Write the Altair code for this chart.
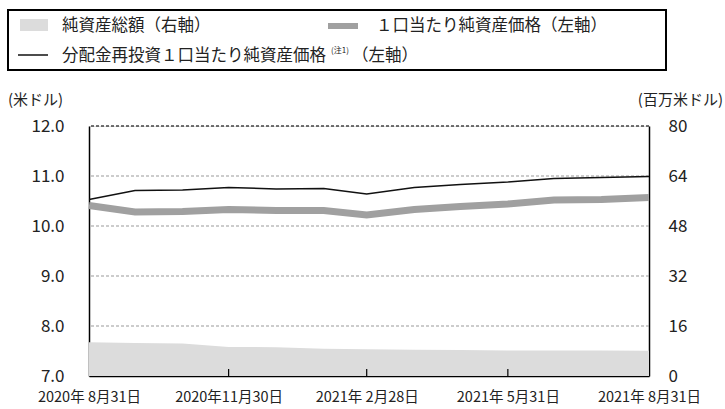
import altair as alt
import pandas as pd

dates = ["2020-08-31", "2020-09-30", "2020-10-31", "2020-11-30", "2020-12-31",
         "2021-01-31", "2021-02-28", "2021-03-31", "2021-04-30", "2021-05-31",
         "2021-06-30", "2021-07-31", "2021-08-31"]
nav_reinvest = [10.53, 10.71, 10.72, 10.77, 10.74, 10.75, 10.64, 10.77, 10.83, 10.88, 10.95, 10.97, 10.99]
nav = [10.41, 10.28, 10.29, 10.33, 10.31, 10.31, 10.22, 10.33, 10.39, 10.44, 10.52, 10.53, 10.57]
net_assets = [10.8, 10.6, 10.4, 9.3, 9.2, 8.7, 8.6, 8.4, 8.3, 8.2, 8.2, 8.2, 8.1]

left_ticks = [7.0, 8.0, 9.0, 10.0, 11.0, 12.0]
right_ticks = [0, 16, 32, 48, 64, 80]
x_ticks = ["2020-08-31", "2020-11-30", "2021-02-28", "2021-05-31", "2021-08-31"]

FONT = "Noto Sans CJK JP"

df = pd.DataFrame({"date": dates, "nav_reinvest": nav_reinvest, "nav": nav, "assets": net_assets})
tick_df = pd.DataFrame({"date": x_ticks[1:-1]})

def ymd(s):
    y, m, d = [int(v) for v in s.split("-")]
    return alt.DateTime(year=y, month=m, date=d, utc=True)

xscale = alt.Scale(type="utc", domain=[ymd(dates[0]), ymd(dates[-1])])
xaxis = alt.Axis(values=[ymd(s) for s in x_ticks], labelExpr="utcFormat(datum.value, '%Y年%_m月%-d日')",
                 title=None, domainColor="#000", domainWidth=1.5, tickSize=0, labelPadding=14,
                 labelFontSize=14.5, labelFont=FONT, labelColor="#222", grid=False,
                 labelOverlap=False, labelFlush=False)

lscale = alt.Scale(domain=[7, 12], nice=False, zero=False)
rscale = alt.Scale(domain=[0, 80], nice=False)

area = alt.Chart(df).mark_area(color="#dcdcdc", opacity=1).encode(
    x=alt.X("date:T", scale=xscale, axis=xaxis),
    y=alt.Y("assets:Q", scale=rscale,
            axis=alt.Axis(orient="right", values=right_ticks, title=None, grid=False,
                          domainColor="#000", domainWidth=1.5, tickSize=0, labelPadding=19,
                          labelFontSize=17, labelFont=FONT, labelColor="#222")),
)

grid_rule = alt.Chart(pd.DataFrame({"v": left_ticks[1:-1]})).mark_rule(
    color="#999", strokeDash=[3, 2], strokeWidth=1).encode(y=alt.Y("v:Q", scale=lscale,
        axis=alt.Axis(orient="left", values=left_ticks, format=".1f", title=None, grid=False,
                      domainColor="#000", domainWidth=1.5, tickSize=0, labelPadding=25,
                      labelFontSize=17, labelFont=FONT, labelColor="#222")))
top_rule = alt.Chart(pd.DataFrame({"v": [left_ticks[-1]]})).mark_rule(
    color="#444", strokeDash=[3, 2], strokeWidth=1.5).encode(y=alt.Y("v:Q", scale=lscale))

gray_line = alt.Chart(df).mark_line(color="#a0a0a0", strokeWidth=7).encode(
    x=alt.X("date:T", scale=xscale), y=alt.Y("nav:Q", scale=lscale))
black_line = alt.Chart(df).mark_line(color="#111", strokeWidth=1.5).encode(
    x=alt.X("date:T", scale=xscale), y=alt.Y("nav_reinvest:Q", scale=lscale))
ticks = alt.Chart(tick_df).mark_rule(color="#000", strokeWidth=1.2).encode(
    x=alt.X("date:T", scale=xscale), y=alt.value(250), y2=alt.value(243))

left = alt.layer(grid_rule, top_rule, gray_line, black_line, ticks)

# Legend and axis unit labels (positions relative to plot origin at (89,126))
one = pd.DataFrame({"a": [0]})
OX, OY = 89, 126
def tx(text, x, y, size=16.5, align="left"):
    return alt.Chart(one).mark_text(text=text, font=FONT, fontSize=size, align=align,
                                    baseline="middle", color="#222").encode(
        x=alt.value(x - OX), y=alt.value(y - OY))

box = alt.Chart(one).mark_rect(fill=None, stroke="#000", strokeWidth=2).encode(
    x=alt.value(8 - OX), x2=alt.value(666 - OX), y=alt.value(10 - OY), y2=alt.value(70 - OY))
sw1 = alt.Chart(one).mark_rect(color="#dcdcdc").encode(
    x=alt.value(20 - OX), x2=alt.value(48 - OX), y=alt.value(19 - OY), y2=alt.value(31 - OY))
sw2 = alt.Chart(one).mark_rule(color="#a0a0a0", strokeWidth=6).encode(
    x=alt.value(328 - OX), x2=alt.value(358 - OX), y=alt.value(26 - OY))
sw3 = alt.Chart(one).mark_rule(color="#111", strokeWidth=1.5).encode(
    x=alt.value(18 - OX), x2=alt.value(48 - OX), y=alt.value(55 - OY))

legend = [box, sw1, sw2, sw3,
          tx("純資産総額（右軸）", 62, 26),
          tx("１口当たり純資産価格（左軸）", 376, 26),
          tx("分配金再投資１口当たり純資産価格", 62, 56),
          tx("(注1)", 331, 51, size=8),
          tx("（左軸）", 352, 56),
          tx("(米ドル)", 8, 100, size=15),
          tx("(百万米ドル)", 723, 100, size=15, align="right")]

chart = alt.layer(area, left, *legend).resolve_scale(y="independent").properties(
    width=560, height=250,
    autosize=alt.AutoSizeParams(type="none"),
    padding={"left": OX, "top": OY, "right": 725 - OX - 560, "bottom": 409 - OY - 250},
).configure_view(stroke=None).configure(background="white")

chart.save("out.html", embed_options={"renderer": "svg", "actions": False})
